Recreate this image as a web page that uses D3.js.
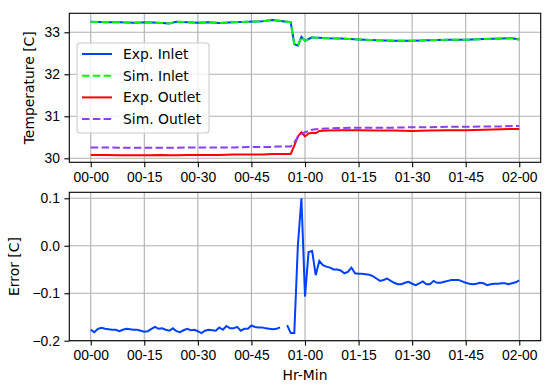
<!DOCTYPE html>
<html>
<head>
<meta charset="utf-8">
<script src="https://cdn.jsdelivr.net/npm/d3@7"></script>
<style>
  body { margin: 0; background: #fff; }
  svg { display: block; font-family: "DejaVu Sans", sans-serif; }
  .axis text { font-size: 13.9px; fill: #000; }
  .axis path { display: none; }
  .axis line { stroke: #000; stroke-width: 1.1; }
</style>
</head>
<body>
<svg id="chart"></svg>
<script>
// x ticks (minutes from start) and their labels
const tickMinutes = [0, 15, 30, 45, 60, 75, 90, 105, 120];
const tickLabels = ['00-00', '00-15', '00-30', '00-45', '01-00', '01-15', '01-30', '01-45', '02-00'];
const tempTicks = [30, 31, 32, 33];
const errorTicks = [-0.2, -0.1, 0.0, 0.1];

// temperature samples
const tempMinutes = [0, 4, 8, 12, 16, 20, 22, 24, 27, 30, 33, 36, 40, 44, 48, 51, 52, 56, 57, 58,
    59, 60, 61, 62, 63, 64, 66, 70, 75, 80, 85, 90, 95, 100, 105, 110, 115, 118, 120];
const expInlet = [33.25, 33.24, 33.24, 33.23, 33.24, 33.22, 33.21, 33.25, 33.24, 33.23, 33.24, 33.22, 33.24, 33.25, 33.26, 33.29, 33.28, 33.24, 32.72, 32.68,
    32.89, 32.80, 32.84, 32.88, 32.87, 32.87, 32.86, 32.85, 32.83, 32.81, 32.80, 32.80, 32.81, 32.82, 32.82, 32.84, 32.85, 32.86, 32.83];
const simInlet = [33.25, 33.24, 33.24, 33.23, 33.24, 33.22, 33.21, 33.25, 33.24, 33.23, 33.24, 33.22, 33.24, 33.25, 33.26, 33.29, 33.28, 33.24, 32.72, 32.68,
    32.89, 32.80, 32.84, 32.88, 32.87, 32.87, 32.86, 32.85, 32.83, 32.81, 32.80, 32.80, 32.81, 32.82, 32.82, 32.84, 32.85, 32.86, 32.83];
const expOutlet = [30.08, 30.08, 30.07, 30.07, 30.07, 30.08, 30.07, 30.07, 30.08, 30.08, 30.08, 30.08, 30.09, 30.09, 30.09, 30.10, 30.10, 30.10, 30.30, 30.52,
    30.62, 30.52, 30.59, 30.61, 30.60, 30.65, 30.66, 30.67, 30.67, 30.66, 30.66, 30.65, 30.66, 30.67, 30.67, 30.68, 30.69, 30.70, 30.70];
const simOutlet = [30.26, 30.26, 30.25, 30.25, 30.25, 30.25, 30.25, 30.25, 30.26, 30.26, 30.26, 30.26, 30.26, 30.27, 30.27, 30.27, 30.28, 30.28, 30.38, 30.50,
    30.57, 30.62, 30.65, 30.68, 30.69, 30.70, 30.71, 30.72, 30.73, 30.73, 30.73, 30.74, 30.74, 30.75, 30.75, 30.76, 30.76, 30.77, 30.77];

// error, one sample per minute (null = missing)
const errorValues = [
    -0.177, -0.182, -0.175, -0.173, -0.175, -0.176, -0.177, -0.177, -0.180, -0.177,
    -0.175, -0.176, -0.177, -0.177, -0.179, -0.181, -0.180, -0.175, -0.171, -0.175,
    -0.174, -0.177, -0.179, -0.174, -0.180, -0.182, -0.178, -0.175, -0.178, -0.177,
    -0.180, -0.184, -0.179, -0.177, -0.178, -0.179, -0.172, -0.177, -0.169, -0.174,
    -0.174, -0.171, -0.179, -0.175, -0.175, -0.168, -0.171, -0.172, -0.172, -0.174,
    -0.175, -0.176, -0.175, -0.172, null, -0.167, -0.184, -0.184, 0.000, 0.100,
    -0.107, -0.013, -0.011, -0.062, -0.032, -0.041, -0.044, -0.046, -0.050, -0.050,
    -0.052, -0.058, -0.055, -0.046, -0.058, -0.059, -0.059, -0.060, -0.061, -0.064,
    -0.069, -0.074, -0.072, -0.069, -0.074, -0.078, -0.081, -0.081, -0.078, -0.076,
    -0.080, -0.083, -0.079, -0.075, -0.081, -0.081, -0.074, -0.078, -0.078, -0.076,
    -0.074, -0.072, -0.072, -0.072, -0.075, -0.078, -0.080, -0.081, -0.080, -0.078,
    -0.079, -0.083, -0.081, -0.080, -0.080, -0.079, -0.079, -0.081, -0.079, -0.077,
    -0.073];

const seriesNames = ['Exp. Inlet', 'Sim. Inlet', 'Exp. Outlet', 'Sim. Outlet'];

const width = 550;
const height = 387;
const blue = '#0040ff';
const green = '#00ff00';
const red = '#ff0000';
const purple = '#8f3cf5';
const dash = '7.5,3.3';

const svg = d3.select('#chart').attr('width', width).attr('height', height);

const left = 69.3, right = 540.7;
const xScale = d3.scaleLinear().domain([-6, 126]).range([left, right]);
const yTemp = d3.scaleLinear().domain([29.905, 33.452]).range([162.3, 13.3]);
const yErr = d3.scaleLinear().domain([-0.2, 0.1126]).range([340.7, 192.3]);

function drawPanel(yScale, yTicks, yFormat) {
    const [bottom, top] = yScale.range();
    const g = svg.append('g');

    // grid
    g.append('g').selectAll('line').data(tickMinutes).enter().append('line')
        .attr('x1', xScale).attr('x2', xScale)
        .attr('y1', top).attr('y2', bottom)
        .attr('stroke', '#b0b0b0').attr('stroke-width', 1.1);
    g.append('g').selectAll('line').data(yTicks).enter().append('line')
        .attr('x1', left).attr('x2', right)
        .attr('y1', yScale).attr('y2', yScale)
        .attr('stroke', '#b0b0b0').attr('stroke-width', 1.1);

    const lines = g.append('g');

    g.append('g')
        .attr('class', 'axis')
        .attr('transform', `translate(0, ${bottom})`)
        .call(d3.axisBottom(xScale).tickValues(tickMinutes)
            .tickFormat((d, i) => tickLabels[i]).tickSize(4.9).tickPadding(4.5));
    g.append('g')
        .attr('class', 'axis')
        .attr('transform', `translate(${left}, 0)`)
        .call(d3.axisLeft(yScale).tickValues(yTicks)
            .tickFormat(yFormat).tickSize(4.9).tickPadding(4.5));

    return { g, lines, top, bottom };
}

// ---- top panel
const topPanel = drawPanel(yTemp, tempTicks, d3.format('d'));
const tempLine = (vals) => d3.line()
    .x((d, i) => xScale(tempMinutes[i]))
    .y((d) => yTemp(d))(vals);

const tempSeries = [
    { values: expInlet, color: blue, dashed: false },
    { values: simInlet, color: green, dashed: true },
    { values: expOutlet, color: red, dashed: false },
    { values: simOutlet, color: purple, dashed: true },
];
tempSeries.forEach((s) => {
    topPanel.lines.append('path')
        .attr('d', tempLine(s.values))
        .attr('fill', 'none')
        .attr('stroke', s.color)
        .attr('stroke-width', 2)
        .attr('stroke-dasharray', s.dashed ? dash : null);
});

// ---- bottom panel
const fmtErr = (d) => d3.format('.1f')(d).replace('-', '\u2212');
const bottomPanel = drawPanel(yErr, errorTicks, fmtErr);
bottomPanel.lines.append('path')
    .attr('d', d3.line()
        .defined((d) => d !== null)
        .x((d, i) => xScale(i))
        .y((d) => yErr(d))(errorValues))
    .attr('fill', 'none')
    .attr('stroke', blue)
    .attr('stroke-width', 2);

// spines
[topPanel, bottomPanel].forEach((p) => {
    svg.append('rect')
        .attr('x', left).attr('y', p.top)
        .attr('width', right - left).attr('height', p.bottom - p.top)
        .attr('fill', 'none').attr('stroke', '#000').attr('stroke-width', 1.1);
});

// axis labels
svg.append('text')
    .attr('transform', `translate(29, ${(13.3 + 162.3) / 2}) rotate(-90)`)
    .attr('text-anchor', 'middle').attr('dy', '0.35em')
    .style('font-size', '13.9px').text('Temperature [C]');
svg.append('text')
    .attr('transform', `translate(14, ${(192.3 + 340.7) / 2}) rotate(-90)`)
    .attr('text-anchor', 'middle').attr('dy', '0.35em')
    .style('font-size', '13.9px').text('Error [C]');
svg.append('text')
    .attr('x', (left + right) / 2).attr('y', 375)
    .attr('text-anchor', 'middle').attr('dy', '0.35em')
    .style('font-size', '13.9px').text('Hr-Min');

// legend
const legend = svg.append('g').attr('transform', 'translate(77, 43)');
legend.append('rect')
    .attr('width', 132).attr('height', 90).attr('rx', 3)
    .attr('fill', '#fff').attr('fill-opacity', 0.8)
    .attr('stroke', '#cccccc').attr('stroke-width', 1.1);
const items = legend.selectAll('.item')
    .data(tempSeries)
    .enter()
    .append('g')
    .attr('transform', (d, i) => `translate(0, ${11 + i * 21.7})`);
items.append('line')
    .attr('x1', 5).attr('x2', 35)
    .attr('stroke', (d) => d.color)
    .attr('stroke-width', 2)
    .attr('stroke-dasharray', (d) => d.dashed ? dash : null);
items.append('text')
    .attr('x', 46).attr('dy', '0.35em')
    .style('font-size', '13.9px')
    .text((d, i) => seriesNames[i]);
</script>
</body>
</html>
